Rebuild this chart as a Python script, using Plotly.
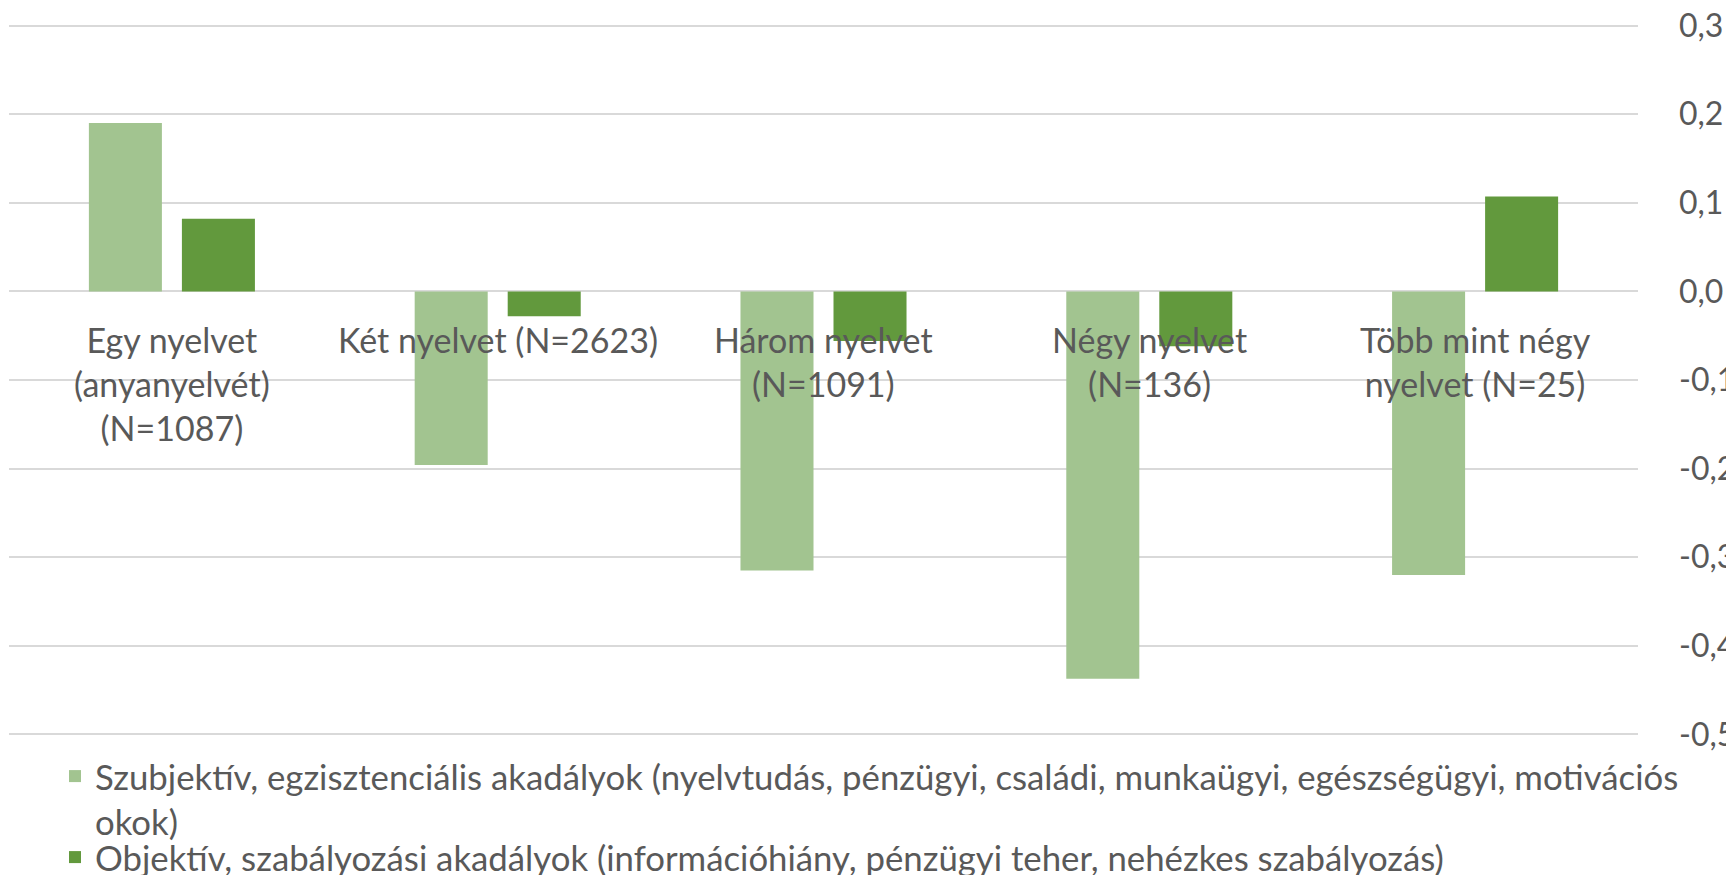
import plotly.graph_objects as go

# Categories (number of languages spoken) and the two obstacle indices
categories = [
    "Egy nyelvet<br>(anyanyelvét)<br>(N=1087)",
    "Két nyelvet (N=2623)",
    "Három nyelvet<br>(N=1091)",
    "Négy nyelvet<br>(N=136)",
    "Több mint négy<br>nyelvet (N=25)",
]
subjective = [0.190, -0.196, -0.315, -0.437, -0.320]
objective = [0.082, -0.028, -0.056, -0.062, 0.107]

series_names = [
    "Szubjektív, egzisztenciális akadályok (nyelvtudás, pénzügyi, családi, munkaügyi, egészségügyi, motivációs<br>okok)",
    "Objektív, szabályozási akadályok (információhiány, pénzügyi teher, nehézkes szabályozás)",
]

y_ticks = [0.3, 0.2, 0.1, 0.0, -0.1, -0.2, -0.3, -0.4, -0.5]
y_ticktext = ["0,3", "0,2", "0,1", "0,0", "-0,1", "-0,2", "-0,3", "-0,4", "-0,5"]

text_color = "#595959"
grid_color = "#D9D9D9"
font_family = "Lato"
font_size = 34

# the page body keeps its default 8px margin, so the figure is drawn
# 8px smaller than the window
W, H = 1726, 867

fig = go.Figure()

fig.add_trace(go.Bar(
    x=categories,
    y=subjective,
    name=series_names[0],
    marker=dict(color="#A2C490", line=dict(width=0)),
    legend="legend",
))
fig.add_trace(go.Bar(
    x=categories,
    y=objective,
    name=series_names[1],
    marker=dict(color="#62993D", line=dict(width=0)),
    legend="legend2",
))

# category labels sit just under the zero line, drawn over the bars
for cat in categories:
    fig.add_annotation(
        x=cat, y=0, xref="x", yref="y",
        text=cat, showarrow=False,
        xanchor="center", yanchor="top", yshift=-26,
        font=dict(family=font_family, size=font_size, color=text_color),
    )

legend_common = dict(
    orientation="v",
    xref="container",
    yref="container",
    xanchor="left",
    yanchor="top",
    valign="top",
    font=dict(family=font_family, size=34.75, color=text_color),
    bgcolor="rgba(0,0,0,0)",
)

fig.update_layout(
    width=W,
    height=H,
    margin=dict(l=1, r=96, t=14, b=137, autoexpand=False),
    plot_bgcolor="white",
    paper_bgcolor="white",
    barmode="group",
    bargap=0.429,
    bargroupgap=0.215,
    font=dict(family=font_family, size=font_size, color=text_color),
    legend=dict(x=47 / W, y=1 - 739 / H, **legend_common),
    legend2=dict(x=47 / W, y=1 - 820 / H, **legend_common),
    showlegend=True,
)

fig.update_xaxes(
    type="category",
    showticklabels=False,
    showgrid=False,
    showline=False,
    zeroline=False,
    ticks="",
)

fig.update_yaxes(
    range=[-0.504, 0.304],
    side="right",
    tickvals=y_ticks,
    ticktext=y_ticktext,
    showgrid=True,
    gridcolor=grid_color,
    gridwidth=2,
    zeroline=True,
    zerolinecolor=grid_color,
    zerolinewidth=2,
    showline=False,
    ticks="",
    ticklabelstandoff=40,
    ticklabeloverflow="allow",
    tickfont=dict(family=font_family, size=32, color=text_color),
)

fig.write_html("out.html")
